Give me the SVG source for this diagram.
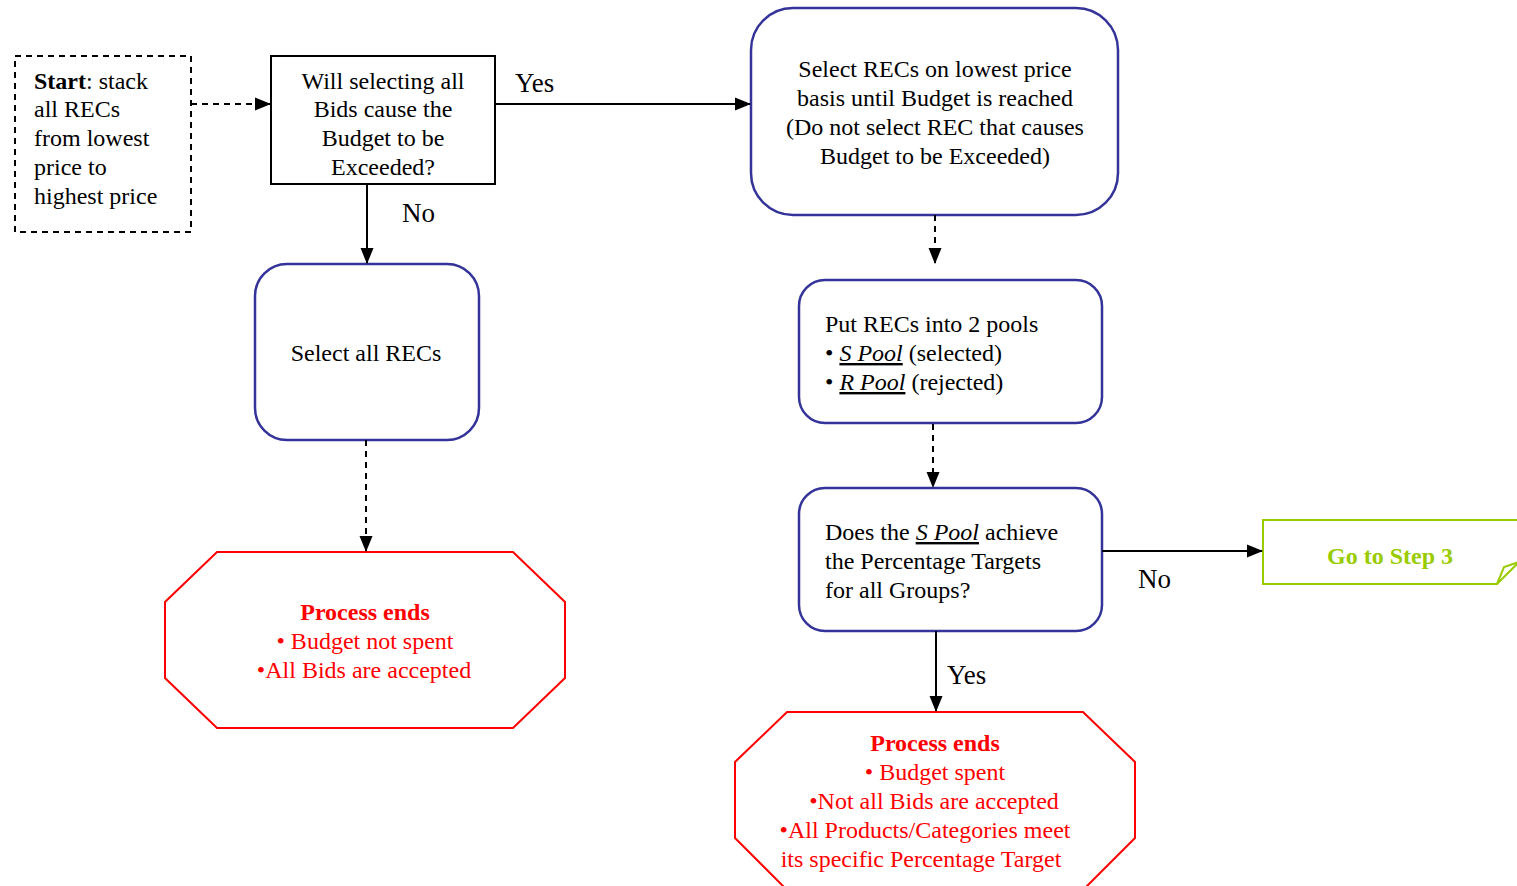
<svg xmlns="http://www.w3.org/2000/svg" width="1517" height="886" viewBox="0 0 1517 886">
<defs>
<marker id="ahb" markerWidth="16" markerHeight="16" refX="15" refY="6.5" orient="auto" markerUnits="userSpaceOnUse" viewBox="0 0 16 13">
<path d="M0,0 L16,6.5 L0,13 Z" fill="#000"/>
</marker>
</defs>
<style>
text{font-family:"Liberation Serif","Times New Roman",serif;font-size:24px;fill:#000}
.c{text-anchor:middle}
.b{font-weight:bold}
.lbl{font-size:27px}
.red{fill:#ff0000}
.grn{fill:#99cc00}
.blue{fill:#fff;stroke:#333399;stroke-width:2.5}
.oct{fill:#fff;stroke:#ff0000;stroke-width:2}
.conn{fill:none;stroke:#000;stroke-width:2;marker-end:url(#ahb)}
.dash{stroke-dasharray:6,5}
</style>
<rect width="1517" height="886" fill="#fff"/>

<g id="start">
<rect x="15" y="56" width="176" height="176" fill="#fff" stroke="#000" stroke-width="2" stroke-dasharray="6,5"/>
<text x="34" y="89"><tspan class="b">Start</tspan>: stack</text>
<text x="34" y="117">all RECs</text>
<text x="34" y="146">from lowest</text>
<text x="34" y="175">price to</text>
<text x="34" y="204">highest price</text>
</g>

<g id="decision1">
<rect x="271" y="56" width="224" height="128" fill="#fff" stroke="#000" stroke-width="2"/>
<text class="c" x="383" y="89">Will selecting all</text>
<text class="c" x="383" y="117">Bids cause the</text>
<text class="c" x="383" y="146">Budget to be</text>
<text class="c" x="383" y="175">Exceeded?</text>
</g>

<g id="selectAll">
<rect class="blue" x="255" y="264" width="224" height="176" rx="32"/>
<text class="c" x="366" y="361">Select all RECs</text>
</g>

<g id="end1">
<polygon class="oct" points="217,552 513,552 565,602 565,678 513,728 217,728 165,678 165,602"/>
<text class="c red b" x="365" y="620">Process ends</text>
<text class="c red" x="365" y="649">• Budget not spent</text>
<text class="c red" x="364" y="678">•All Bids are accepted</text>
</g>

<g id="selectLowest">
<rect class="blue" x="751" y="8" width="367" height="207" rx="42"/>
<text class="c" x="935" y="77">Select RECs on lowest price</text>
<text class="c" x="935" y="106">basis until Budget is reached</text>
<text class="c" x="935" y="135">(Do not select REC that causes</text>
<text class="c" x="935" y="164">Budget to be Exceeded)</text>
</g>

<g id="pools">
<rect class="blue" x="799" y="280" width="303" height="143" rx="26"/>
<text x="825" y="332">Put RECs into 2 pools</text>
<text x="825" y="361">• <tspan font-style="italic" text-decoration="underline">S Pool</tspan> (selected)</text>
<text x="825" y="390">• <tspan font-style="italic" text-decoration="underline">R Pool</tspan> (rejected)</text>
</g>

<g id="decision2">
<rect class="blue" x="799" y="488" width="303" height="143" rx="26"/>
<text x="825" y="540">Does the <tspan font-style="italic" text-decoration="underline">S Pool</tspan> achieve</text>
<text x="825" y="569">the Percentage Targets</text>
<text x="825" y="598">for all Groups?</text>
</g>

<g id="step3">
<path d="M1263,520 H1519 V562 L1497,584 H1263 Z" fill="#fff" stroke="#99cc00" stroke-width="2"/>
<path d="M1497,584 L1504,567 L1519,562" fill="none" stroke="#99cc00" stroke-width="2"/>
<text class="c grn b" x="1390" y="564">Go to Step 3</text>
</g>

<g id="end2">
<polygon class="oct" points="787,712 1083,712 1135,762 1135,838 1083,890 787,890 735,838 735,762"/>
<text class="c red b" x="935" y="751">Process ends</text>
<text class="c red" x="935" y="780">• Budget spent</text>
<text class="c red" x="934" y="809">•Not all Bids are accepted</text>
<text class="c red" x="925" y="838">•All Products/Categories meet</text>
<text class="c red" x="921" y="867">its specific Percentage Target</text>
</g>

<g id="connectors">
<line class="conn dash" x1="191" y1="104" x2="270" y2="104"/>
<line class="conn" x1="495" y1="104" x2="750" y2="104"/>
<text class="lbl" x="515" y="92">Yes</text>
<line class="conn" x1="367" y1="184" x2="367" y2="263"/>
<text class="lbl" x="402" y="222">No</text>
<line class="conn dash" x1="366" y1="440" x2="366" y2="551"/>
<line class="conn dash" x1="935" y1="215" x2="935" y2="263"/>
<line class="conn dash" x1="933" y1="424" x2="933" y2="487"/>
<line class="conn" x1="1102" y1="551" x2="1262" y2="551"/>
<text class="lbl" x="1138" y="588">No</text>
<line class="conn" x1="936" y1="631" x2="936" y2="711"/>
<text class="lbl" x="947" y="684">Yes</text>
</g>
</svg>
